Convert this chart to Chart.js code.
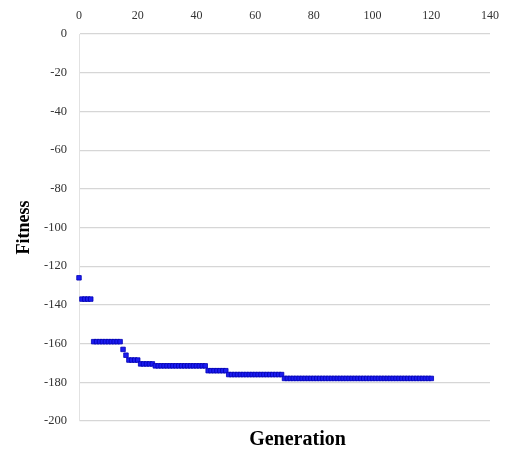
<!DOCTYPE html>
<html><head><meta charset="utf-8">
<script src="https://cdn.jsdelivr.net/npm/chart.js@4"></script>
<style>html,body{margin:0;padding:0;background:#fff}#wrap{width:507px;height:452px}</style>
</head><body><div id="wrap"><canvas id="c" width="507" height="452"></canvas></div>
<script>
const generations = [0,1,2,3,4,5,6,7,8,9,10,11,12,13,14,15,16,17,18,19,20,21,22,23,24,25,26,27,28,29,30,31,32,33,34,35,36,37,38,39,40,41,42,43,44,45,46,47,48,49,50,51,52,53,54,55,56,57,58,59,60,61,62,63,64,65,66,67,68,69,70,71,72,73,74,75,76,77,78,79,80,81,82,83,84,85,86,87,88,89,90,91,92,93,94,95,96,97,98,99,100,101,102,103,104,105,106,107,108,109,110,111,112,113,114,115,116,117,118,119,120];
const fitness = [-126,
 -137,-137,-137,-137,
 -159,-159,-159,-159,-159,-159,-159,-159,-159,-159,
 -163,-166,
 -168.5,-168.5,-168.5,-168.5,
 -170.5,-170.5,-170.5,-170.5,-170.5,
 -171.5,-171.5,-171.5,-171.5,-171.5,-171.5,-171.5,-171.5,-171.5,-171.5,-171.5,-171.5,-171.5,-171.5,-171.5,-171.5,-171.5,-171.5,
 -174,-174,-174,-174,-174,-174,-174,
 -176,-176,-176,-176,-176,-176,-176,-176,-176,-176,-176,-176,-176,-176,-176,-176,-176,-176,-176,
 -178,-178,-178,-178,-178,-178,-178,-178,-178,-178,-178,-178,-178,-178,-178,-178,-178,-178,-178,-178,-178,-178,-178,-178,-178,-178,-178,-178,-178,-178,-178,-178,-178,-178,-178,-178,-178,-178,-178,-178,-178,-178,-178,-178,-178,-178,-178,-178,-178,-178,-178];
const xTickValues = [0,20,40,60,80,100,120,140];
const yTickValues = [0,-20,-40,-60,-80,-100,-120,-140,-160,-180,-200];
const xTitle = 'Generation';
const yTitle = 'Fitness';

const serif = "'Liberation Serif', 'Times New Roman', serif";
const points = generations.map((g, i) => ({x: g, y: fitness[i]}));

const shiftXTitle = {
  id: 'shiftXTitle',
  afterLayout(chart) {
    const s = chart.scales.x2;
    s.left += 26;
    s.width = s.right - s.left;
  }
};

new Chart(document.getElementById('c').getContext('2d'), {
  type: 'scatter',
  data: {datasets: [{
    data: points,
    pointStyle: 'rect',
    pointRadius: 3.2,
    backgroundColor: '#1c1cf0',
    borderColor: '#0000b4',
    borderWidth: 0.8,
    showLine: false,
    clip: false
  }]},
  plugins: [shiftXTitle],
  options: {
    responsive: false,
    animation: false,
    layout: {padding: {left: 0, right: 17, top: 0, bottom: 0}},
    plugins: {legend: {display: false}, tooltip: {enabled: false}},
    scales: {
      x: {
        type: 'linear', position: 'top', min: 0, max: 140,
        afterBuildTicks: s => { s.ticks = xTickValues.map(v => ({value: v})); },
        ticks: {font: {family: serif, size: 12}, color: '#333', padding: 11, maxRotation: 0},
        grid: {display: false, drawTicks: false},
        border: {display: false},
        afterFit: s => { s.height = 34; s.paddingLeft = 0; s.paddingRight = 0; }
      },
      x2: {
        type: 'linear', position: 'bottom', min: 0, max: 140,
        ticks: {display: false},
        grid: {display: false, drawTicks: false},
        border: {display: false},
        title: {display: true, text: xTitle, color: '#000', font: {family: serif, size: 20, weight: 'bold'}, padding: {top: 0, bottom: 0}},
        afterFit: s => { s.height = 31; s.paddingLeft = 0; s.paddingRight = 0; }
      },
      y: {
        type: 'linear', position: 'left', min: -200, max: 0,
        afterBuildTicks: s => { s.ticks = yTickValues.map(v => ({value: v})); },
        ticks: {font: {family: serif, size: 12.5}, color: '#333', padding: 12},
        grid: {color: '#d6d6d6', lineWidth: 1.2, drawTicks: false},
        border: {display: true, color: '#e2e2e2'},
        title: {display: true, text: yTitle, color: '#000', font: {family: serif, size: 18, weight: 'bold'}, padding: {top: 14, bottom: 0}},
        afterFit: s => { s.width = 79; s.paddingTop = 0; s.paddingBottom = 0; }
      }
    }
  }
});
</script></body></html>
